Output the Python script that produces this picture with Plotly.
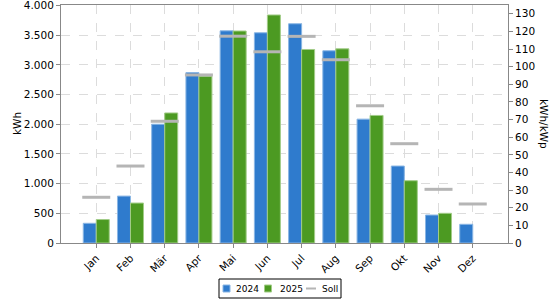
import plotly.graph_objects as go

months = ["Jan", "Feb", "Mär", "Apr", "Mai", "Jun", "Jul", "Aug", "Sep", "Okt", "Nov", "Dez"]
kwh_2024 = [332, 790, 2000, 2870, 3573, 3540, 3692, 3237, 2086, 1296, 471, 315]
kwh_2025 = [395, 673, 2190, 2810, 3570, 3840, 3259, 3270, 2148, 1049, 500, None]
soll = [770, 1296, 2050, 2830, 3483, 3220, 3480, 3086, 2311, 1672, 904, 657]
left_ticks = [0, 500, 1000, 1500, 2000, 2500, 3000, 3500, 4000]
left_labels = ["0", "500", "1.000", "1.500", "2.000", "2.500", "3.000", "3.500", "4.000"]
right_ticks = list(range(0, 140, 10))
series_names = ["2024", "2025", "Soll"]

FONT = "DejaVu Sans"
BLUE, BLUE_EDGE = "#2f7bcd", "#8ab6e4"
GREEN, GREEN_EDGE = "#4c9a22", "#a2cc88"
GREY = "#b5b5b5"

W, H = 560, 300
ML, MR, MT, MB = 61, 52, 5, 57
PW, PH = W - ML - MR, H - MT - MB


def px(x):
    return (x - ML) / PW


def py(y):
    return (H - MB - y) / PH


fig = go.Figure()
fig.add_trace(go.Bar(x=months, y=kwh_2024, name=series_names[0],
                     marker=dict(color=BLUE, line=dict(color=BLUE_EDGE, width=1))))
fig.add_trace(go.Bar(x=months, y=kwh_2025, name=series_names[1],
                     marker=dict(color=GREEN, line=dict(color=GREEN_EDGE, width=1))))
fig.add_trace(go.Scatter(x=months, y=soll, name=series_names[2], mode="markers",
                         marker=dict(symbol="line-ew", size=20, color=GREY,
                                     line=dict(color=GREY, width=3))))
fig.add_trace(go.Scatter(x=[months[0]], y=[0], yaxis="y2", mode="markers",
                         marker=dict(opacity=0), showlegend=False, hoverinfo="skip"))

axis_common = dict(showline=True, linecolor="#888888", linewidth=1,
                   ticks="outside", ticklen=4, tickcolor="#888888", automargin=False,
                   ticklabeloverflow="allow", tickfont=dict(size=10.5))

fig.update_layout(
    width=W, height=H,
    margin=dict(l=ML, r=MR, t=MT, b=MB, autoexpand=False),
    paper_bgcolor="white", plot_bgcolor="white",
    font=dict(family=FONT, size=10.5, color="#000"),
    barmode="group", bargap=0.24, bargroupgap=0,
    showlegend=False,
    xaxis=dict(type="category", range=[-1.03, 12.03], tickangle=-45,
               showgrid=True, gridcolor="#dcdcdc", griddash="dash", gridwidth=1,
               mirror=True, **axis_common),
    yaxis=dict(range=[0, 4008], tickvals=left_ticks, ticktext=left_labels,
               showgrid=True, gridcolor="#dcdcdc", griddash="dash", gridwidth=1,
               zeroline=False, **axis_common),
    yaxis2=dict(overlaying="y", side="right", range=[0, 135.0], tickvals=right_ticks,
                showgrid=False, zeroline=False, **axis_common),
)

# axis titles
fig.add_annotation(text="kWh", textangle=-90, x=px(17), y=0.5, xref="paper", yref="paper",
                   xanchor="center", yanchor="middle", showarrow=False, font=dict(size=10.5))
fig.add_annotation(text="kWh/kWp", textangle=90, x=px(544), y=0.5, xref="paper", yref="paper",
                   xanchor="center", yanchor="middle", showarrow=False, font=dict(size=10.5))

# legend box
fig.add_shape(type="rect", xref="paper", yref="paper",
              x0=px(219), x1=px(341), y0=py(279), y1=py(298),
              line=dict(color="#000", width=1), fillcolor="white")
fig.add_shape(type="rect", xref="paper", yref="paper",
              x0=px(223), x1=px(230), y0=py(285), y1=py(292),
              line=dict(color=BLUE_EDGE, width=1), fillcolor=BLUE)
fig.add_shape(type="rect", xref="paper", yref="paper",
              x0=px(264.5), x1=px(271.5), y0=py(285), y1=py(292),
              line=dict(color=GREEN_EDGE, width=1), fillcolor=GREEN)
fig.add_shape(type="line", xref="paper", yref="paper",
              x0=px(306), x1=px(316), y0=py(288.5), y1=py(288.5),
              line=dict(color=GREY, width=2))
for name, xl in zip(series_names, [235, 279, 320.5]):
    fig.add_annotation(text=name, x=px(xl), y=py(288.5), xref="paper", yref="paper",
                       xanchor="left", yanchor="middle", showarrow=False,
                       borderpad=0, font=dict(size=9))

fig.write_html("out.html")
